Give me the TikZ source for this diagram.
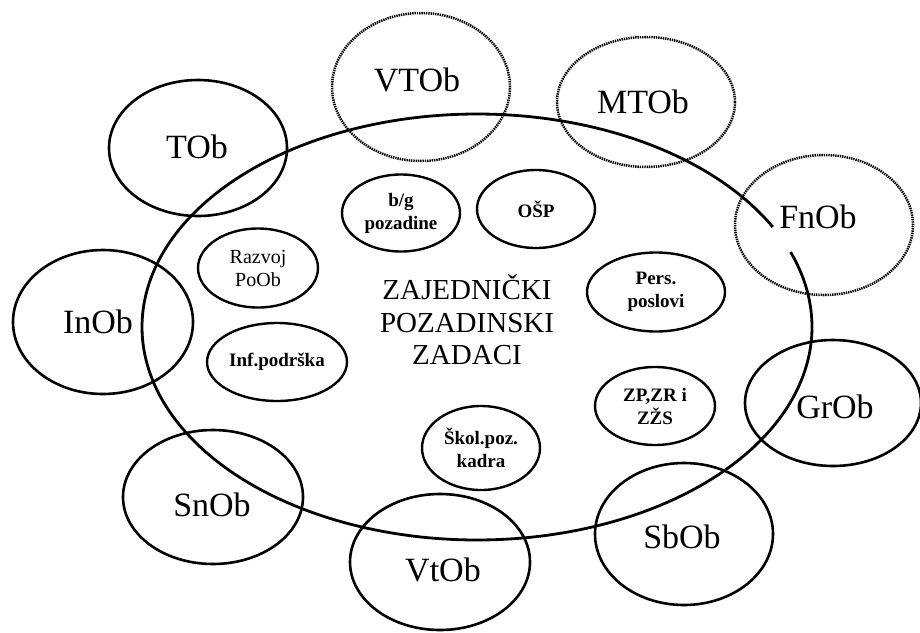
\documentclass[tikz,border=0pt]{standalone}
\usepackage{fontspec}
\setmainfont{Liberation Serif}
\usetikzlibrary{shapes.geometric}
\begin{document}
\begin{tikzpicture}[x=1pt,y=-1pt,
  organ/.style={ellipse, draw, line width=2.6pt, inner sep=0pt},
  dotorgan/.style={organ, line width=2.5pt, dash pattern=on 1.4pt off 0.9pt},
  orgname/.style={inner sep=0pt, font=\fontsize{34}{34}\selectfont},
  task/.style={ellipse, draw, line width=2.4pt, inner sep=0pt, align=center,
    font=\fontsize{19}{23}\selectfont\bfseries},
  tasklight/.style={task, font=\fontsize{20}{23}\selectfont},
  ring/.style={line width=2.8pt},
]
\useasboundingbox (0,0) rectangle (920,632);

% large open ring of shared support tasks
\draw[ring] plot[domain=-20.6:332, samples=240, smooth]
  ({477+335*cos(\x)},{327+213*sin(\x)});

% surrounding organisational units (dotted: partly involved)
\node[dotorgan, minimum width=178pt, minimum height=148pt] (vtob) at (421,87) {};
\node[dotorgan, minimum width=178pt, minimum height=130pt] (mtob) at (646,102) {};
\node[dotorgan, minimum width=178pt, minimum height=140pt] (fnob) at (824,225) {};
\node[organ, minimum width=178pt, minimum height=136pt] (tob) at (198,148) {};
\node[organ, minimum width=180pt, minimum height=144pt] (inob) at (103,322) {};
\node[organ, minimum width=176pt, minimum height=126pt] (grob) at (833,403) {};
\node[organ, minimum width=180pt, minimum height=134pt] (snob) at (213,497) {};
\node[organ, minimum width=180pt, minimum height=136pt] (vtob2) at (440,562) {};
\node[organ, minimum width=178pt, minimum height=142pt] (sbob) at (684,534) {};

\node[orgname] (vtob-t) at (417,80) {VTOb};
\node[orgname] (mtob-t) at (643,102) {MTOb};
\node[orgname] (fnob-t) at (818,217) {FnOb};
\node[orgname] (tob-t) at (197,147) {TOb};
\node[orgname] (inob-t) at (98,322) {InOb};
\node[orgname] (grob-t) at (835,407) {GrOb};
\node[orgname] (snob-t) at (212,505) {SnOb};
\node[orgname] (vtob2-t) at (443,570) {VtOb};
\node[orgname] (sbob-t) at (682,537) {SbOb};

% inner task ellipses
\node[task, minimum width=118pt, minimum height=77pt] (bg) at (401,213) {b/g\\pozadine};
\node[task, minimum width=118pt, minimum height=78pt] (osp) at (536,209) {OŠP};
\node[tasklight, minimum width=120pt, minimum height=79pt] (razvoj) at (258,268) {Razvoj\\PoOb};
\node[task, minimum width=140pt, minimum height=78pt] (inf) at (277,362) {Inf.podrška};
\node[task, minimum width=138pt, minimum height=79pt] (pers) at (656,292) {Pers.\\poslovi};
\node[task, minimum width=120pt, minimum height=78pt] (zp) at (655,406) {ZP,ZR i\\ZŽS};
\node[task, minimum width=118pt, minimum height=84pt] (skol) at (481,448) {Škol.poz.\\kadra};

% central title
\node[inner sep=0pt, align=center, font=\fontsize{29}{32.5}\selectfont] (title) at (467,320)
  {ZAJEDNIČKI\\POZADINSKI\\ZADACI};
\end{tikzpicture}
\end{document}
